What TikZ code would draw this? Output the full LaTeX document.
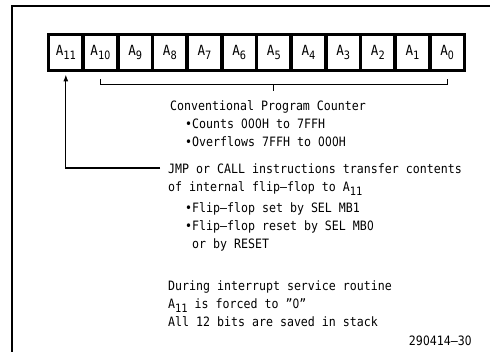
\documentclass[tikz,border=0pt]{standalone}
\usepackage{fontspec}
\setmainfont{DejaVu Sans Mono}[FakeStretch=0.9]
\newfontfamily\zfont{DejaVu Sans}[FakeStretch=0.82]
\usetikzlibrary{arrows.meta,calc}
\newcommand\zr{\makebox[0.5418em]{\zfont 0}}
\newcommand\lowsub[1]{\raisebox{-0.3em}{\fontsize{11.5}{11.5}\selectfont #1}}
\tikzset{
  cell/.style={draw,line width=3.8pt,minimum width=34.667pt,minimum height=36pt,inner sep=0pt,font=\fontsize{14}{14}\selectfont},
  txt/.style={anchor=base west,inner sep=0pt,font=\fontsize{12.9}{12.9}\selectfont},
  wire/.style={line width=1.2pt}
}
\begin{document}
\begin{tikzpicture}[x=1pt,y=-1pt]
\useasboundingbox (0,0) rectangle (490,352);
\draw[line width=1.6pt] (12,352) -- (12,6) -- (490,6);
\foreach \n/\l [count=\i from 0] in {11/11,10/1\zr,9/9,8/8,7/7,6/6,5/5,4/4,3/3,2/2,1/1,0/\zr}
  \node[cell] (c\n) at (48.5+34.667*\i+17.333, 52.5) {A\lowsub{\l}};
% bracket under A10..A0
\draw[wire] ($(c10.south)+(0,6.5)$) -- ($(c10.south)+(0,12.5)$) -- ($(c0.south)+(0,12.5)$) -- ($(c0.south)+(0,6.5)$);
\draw[wire] ($($(c10.south)!0.5!(c0.south)$)+(0,12.5)$) -- ($($(c10.south)!0.5!(c0.south)$)+(0,19)$);
% texts
\node[txt] (conv) at (170,111) {Conventional Program Counter};
\node[txt] (cnt) at (185,129) {•Counts \zr\zr\zr H to 7FFH};
\node[txt] (ovf) at (185,147) {•Overflows 7FFH to \zr\zr\zr H};
\node[txt] (jmp) at (168,174) {JMP or CALL instructions transfer contents};
\node[txt] (intl) at (168,192) {of internal flip–flop to A\lowsub{11}};
\node[txt] (fset) at (185,213) {•Flip–flop set by SEL MB1};
\node[txt] (frst) at (185,231) {•Flip–flop reset by SEL MB\zr};
\node[txt] (orr) at (192,249) {or by RESET};
\node[txt] (dur) at (168,291) {During interrupt service routine};
\node[txt] (frc) at (168,309) {A\lowsub{11} is forced to "\zr"};
\node[txt] (all) at (168,327) {All 12 bits are saved in stack};
\node[txt,anchor=base east] (fig) at (472,346) {29\zr 414–3\zr};
% arrow to A11
\coordinate (jend) at (160,168);
\coordinate (corner) at (c11.south |- jend);
\draw[wire,-{Latex[length=7pt,width=5pt]}] (jend) -- (corner) -- ($(c11.south)+(0,2)$);
\end{tikzpicture}
\end{document}
